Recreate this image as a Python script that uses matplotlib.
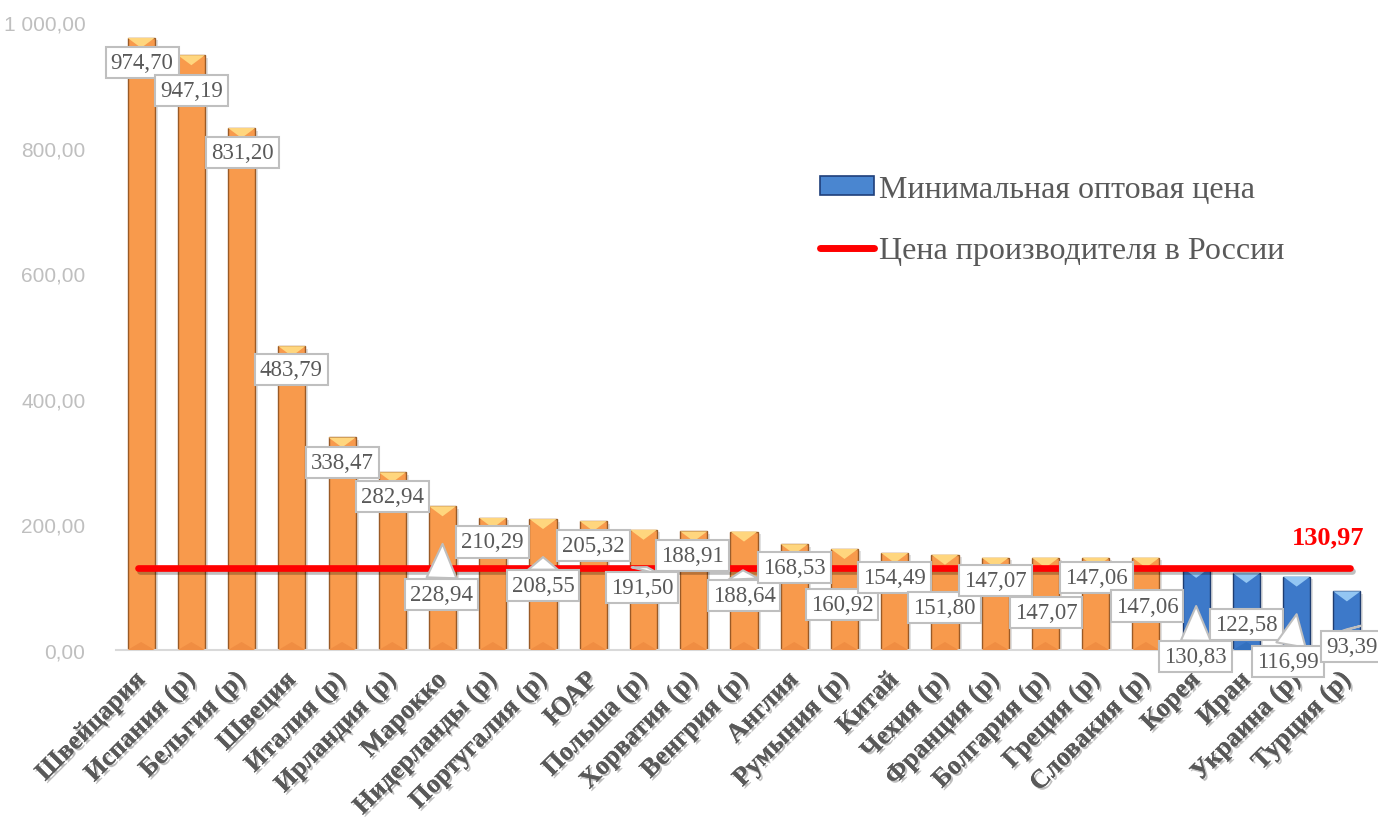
"""Минимальная оптовая цена по странам и цена производителя в России"""
import matplotlib
matplotlib.use('Agg')
import matplotlib.pyplot as plt
import matplotlib.patheffects as pe
import matplotlib.transforms as mtransforms
from matplotlib.patches import Polygon, Patch
from matplotlib.lines import Line2D

# данные
countries = ['Швейцария', 'Испания (р)', 'Бельгия (р)', 'Швеция', 'Италия (р)',
             'Ирландия (р)', 'Марокко', 'Нидерланды (р)', 'Португалия (р)', 'ЮАР',
             'Польша (р)', 'Хорватия (р)', 'Венгрия (р)', 'Англия', 'Румыния (р)',
             'Китай', 'Чехия (р)', 'Франция (р)', 'Болгария (р)', 'Греция (р)',
             'Словакия (р)', 'Корея', 'Иран', 'Украина (р)', 'Турция (р)']
min_price = [974.70, 947.19, 831.20, 483.79, 338.47, 282.94, 228.94, 210.29, 208.55,
             205.32, 191.50, 188.91, 188.64, 168.53, 160.92, 154.49, 151.80, 147.07,
             147.07, 147.06, 147.06, 130.83, 122.58, 116.99, 93.39]
russia_price = 130.97
yticks = [0, 200, 400, 600, 800, 1000]

# раскладка подписей: центр рамки (x, y) и, если есть, кончик выноски
label_box = [(0.02, 935), (1.0, 891), (2.02, 792), (2.99, 446), (4.0, 299),
             (5.0, 245), (5.97, 89), (7.0, 172), (8.0, 102), (9.0, 167),
             (9.97, 100), (10.98, 151), (12.0, 87), (13.01, 131), (13.95, 72),
             (15.0, 116), (15.99, 67), (17.01, 110), (18.01, 59), (19.02, 115),
             (20.02, 70), (20.99, -11), (22.0, 40), (22.83, -18), (24.1, 6)]
callout_tip = {6: (6.0, 169), 8: (8.0, 148), 10: (10.07, 132), 12: (11.98, 127),
               21: (21.0, 70), 23: (23.0, 57), 24: (24.0, 33)}

SERIF = ['Liberation Serif', 'DejaVu Serif']
GRAY = '#595959'

fig = plt.figure(figsize=(13.78, 8.28), dpi=100)
ax = fig.add_axes([116 / 1378, 177 / 828, 1256 / 1378, 628 / 828])
ax.set_xlim(-0.5, len(countries) - 0.5)
ax.set_ylim(0, 1000)

n = len(countries)
n_blue = 4
w = 0.54
bevel = 16
for i, v in enumerate(min_price):
    blue = i >= n - n_blue
    face = '#3D79C9' if blue else '#F89A4C'
    edge = '#1F3D70' if blue else '#9A5A26'
    top = '#93C6F3' if blue else '#FFD67E'
    low = '#3370BE' if blue else '#F08D42'
    # тень
    ax.bar(i + 0.06, v, width=w, bottom=-4, color='#000000', alpha=0.12,
           linewidth=0, zorder=1)
    ax.bar(i, v, width=w, color=face, edgecolor=edge, linewidth=1, zorder=2)
    ax.add_patch(Polygon([(i - w / 2, v), (i + w / 2, v), (i, v - bevel)],
                         closed=True, facecolor=top, edgecolor='none', zorder=3))
    ax.add_patch(Polygon([(i - w / 2, 0), (i + w / 2, 0), (i, bevel * 0.8)],
                         closed=True, facecolor=low, edgecolor='none', zorder=3))

# цена производителя в России
ax.plot([-0.06, n - 1 + 0.06], [russia_price, russia_price], color='#FF0000', lw=4.8,
        solid_capstyle='round', zorder=4,
        path_effects=[pe.SimpleLineShadow(offset=(1.5, -2.5), alpha=0.25), pe.Normal()])
ax.text(23.62, russia_price + 50, f'{russia_price:.2f}'.replace('.', ','),
        color='#FF0000', fontsize=19, fontweight='bold', family=SERIF,
        ha='center', va='center', zorder=6)

# подписи значений
for i, v in enumerate(min_price):
    s = f'{v:.2f}'.replace('.', ',')
    bx, by = label_box[i]
    bbox = dict(boxstyle='square,pad=0.22', facecolor='white', edgecolor='#BFBFBF', lw=1.5)
    if i in callout_tip:
        ax.annotate(s, xy=callout_tip[i], xytext=(bx, by), ha='center', va='center',
                    fontsize=16.5, color=GRAY, family=SERIF, bbox=bbox, zorder=5,
                    annotation_clip=False,
                    arrowprops=dict(arrowstyle='wedge,tail_width=1.3,shrink_factor=0.5',
                                    fc='white', ec='#BFBFBF', lw=1.5, shrinkA=0,
                                    shrinkB=0))
    else:
        ax.text(bx, by, s, ha='center', va='center', fontsize=16.5, color=GRAY,
                family=SERIF, bbox=bbox, zorder=5, clip_on=False)

# оси
for sp in ['left', 'right', 'top']:
    ax.spines[sp].set_visible(False)
ax.spines['bottom'].set_color('#D9D9D9')
ax.spines['bottom'].set_linewidth(1.5)
ax.set_yticks(yticks)
ax.set_yticklabels([f'{t:,.2f}'.replace(',', ' ').replace('.', ',') for t in yticks],
                   family=['Liberation Sans', 'DejaVu Sans'], fontsize=15, color='#BFBFBF')
ax.tick_params(axis='y', length=0, pad=22)
ax.set_xticks(range(n))
ax.set_xticklabels(countries, rotation=45, ha='right', va='top', rotation_mode='anchor',
                   family=SERIF, fontsize=19, fontweight='bold', color=GRAY)
ax.tick_params(axis='x', length=0, pad=13)
shift = mtransforms.ScaledTranslation(-0.08, 0, fig.dpi_scale_trans)
for t in ax.get_xticklabels():
    t.set_zorder(6)
    t.set_transform(t.get_transform() + shift)
    t.set_path_effects([pe.withSimplePatchShadow(offset=(1.5, -1.5), shadow_rgbFace='#7F7F7F',
                                                 alpha=0.5), pe.Normal()])

# легенда
handles = [Patch(facecolor='#4A86D0', edgecolor='#1F3F7A', lw=1.2),
           Line2D([0], [0], color='#FF0000', lw=5, solid_capstyle='round')]
ax.legend(handles, ['Минимальная оптовая цена', 'Цена производителя в России'],
          loc='upper left', bbox_to_anchor=(0.574, 0.822), bbox_transform=fig.transFigure,
          frameon=False, prop=dict(family=SERIF, size=23), labelcolor=GRAY,
          handlelength=1.7, handleheight=0.55, handletextpad=0.15, labelspacing=1.0)

fig.savefig('out.png', dpi=100)
